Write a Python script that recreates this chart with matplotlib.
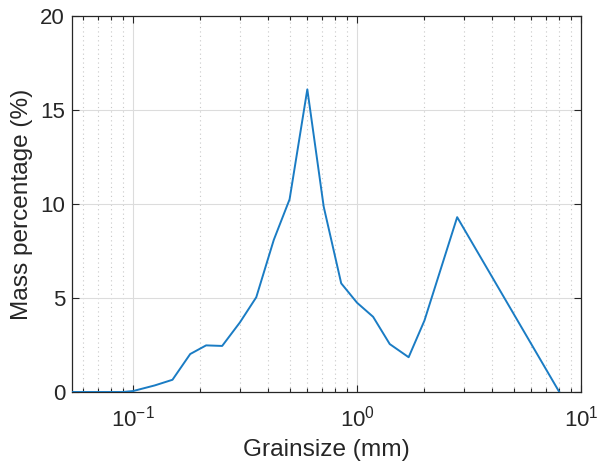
import numpy as np
import matplotlib
matplotlib.use('Agg')
import matplotlib.pyplot as plt
from matplotlib.ticker import LogLocator, NullLocator


# Sieve sizes (mm) and retained mass share (%)
grain_size = [0.05, 0.063, 0.075, 0.09, 0.1, 0.125, 0.15, 0.18, 0.212, 0.25,
              0.3, 0.355, 0.425, 0.5, 0.6, 0.71, 0.85, 1.0, 1.18, 1.4,
              1.7, 2.0, 2.8, 8.0]
mass_pct = [0, 0, 0, 0, 0.05, 0.35, 0.65, 2.02, 2.48, 2.45,
            3.7, 5.04, 8.09, 10.25, 16.1, 9.86, 5.78, 4.75, 4.0, 2.55,
            1.85, 3.8, 9.3, 0]

plt.rcParams['font.family'] = ['Liberation Sans', 'DejaVu Sans']
plt.rcParams['mathtext.fontset'] = 'custom'
plt.rcParams['mathtext.rm'] = 'Liberation Sans'
axcol = '#262626'

fig = plt.figure(figsize=(5.97, 4.67), dpi=100)
ax = fig.add_axes([0.1206, 0.1606, 0.8526, 0.8051])

ax.plot(grain_size, mass_pct, color='#1a7cc4', lw=1.4, zorder=3)

ax.set_xscale('log')
ax.set_xlim(0.0534, 10)
ax.set_ylim(0, 20)
ax.set_yticks([0, 5, 10, 15, 20])
ax.xaxis.set_major_locator(LogLocator(base=10, numticks=10))
ax.xaxis.set_minor_locator(LogLocator(base=10, subs=np.arange(2, 10), numticks=10))
ax.yaxis.set_minor_locator(NullLocator())

ax.grid(True, which='major', color='#dcdcdc', lw=0.8, ls='-', zorder=0)
ax.grid(True, which='minor', axis='x', color='#c8c8c8', lw=0.8, ls=(0, (1, 3)), zorder=0)

ax.tick_params(which='both', direction='in', top=True, right=True,
               color=axcol, labelcolor=axcol, labelsize=16)
ax.tick_params(which='major', length=5, width=0.8)
ax.tick_params(axis='y', which='major', pad=5)
ax.tick_params(axis='x', which='major', pad=10)
ax.tick_params(which='minor', length=3, width=0.8)
for s in ax.spines.values():
    s.set_color(axcol)
    s.set_linewidth(0.9)

ax.set_xlabel('Grainsize (mm)', fontsize=17.6, color=axcol, labelpad=5)
ax.set_ylabel('Mass percentage (%)', fontsize=17.6, color=axcol, labelpad=5)

fig.savefig('out.png', dpi=100)
